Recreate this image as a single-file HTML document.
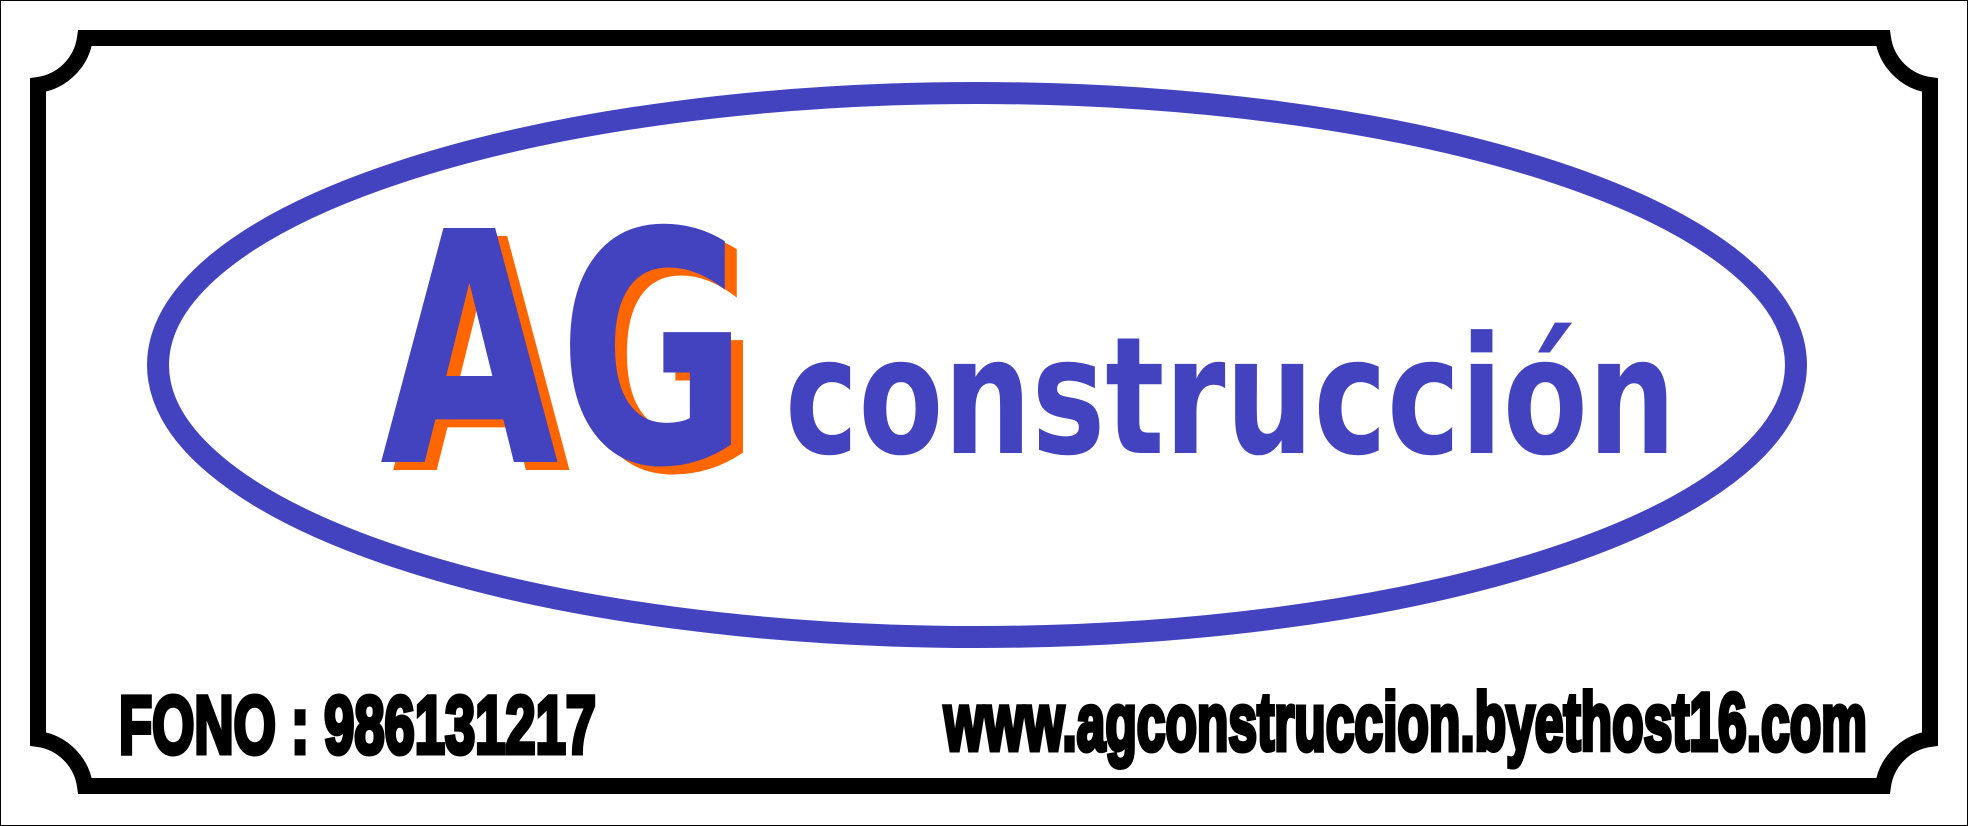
<!DOCTYPE html>
<html><head><meta charset="utf-8"><style>
html,body{margin:0;padding:0;background:#fff;}
svg{display:block;}
</style></head><body>
<svg width="1968" height="826" viewBox="0 0 1968 826">
<rect x="0.5" y="0.5" width="1967" height="825" fill="#fff" stroke="#000" stroke-width="1"/>
<path fill="none" stroke="#000" stroke-width="16"
 d="M85 38 L1883 38 A55 55 0 0 0 1930 85 L1930 739 A55 55 0 0 0 1883 786 L85 786 A55 55 0 0 0 38 739 L38 85 A55 55 0 0 0 85 38 Z"/>
<ellipse cx="977" cy="365" rx="819" ry="272" fill="none" stroke="#4343C0" stroke-width="22"/>
<text x="392" y="470" font-family="DejaVu Sans, sans-serif" font-weight="bold" font-size="321" fill="#FF6600" textLength="368" lengthAdjust="spacingAndGlyphs">AG</text>
<text x="380" y="462" font-family="DejaVu Sans, sans-serif" font-weight="bold" font-size="321" fill="#4343C0" textLength="368" lengthAdjust="spacingAndGlyphs">AG</text>
<text x="785" y="453" font-family="DejaVu Sans, sans-serif" font-weight="bold" font-size="163" fill="#4343C0" textLength="891" lengthAdjust="spacingAndGlyphs">construcción</text>
<text x="119" y="753" font-family="Liberation Sans, sans-serif" font-weight="bold" font-size="82" fill="#000" stroke="#000" stroke-width="5" textLength="477" lengthAdjust="spacingAndGlyphs">FONO : 986131217</text>
<text x="944" y="750" font-family="Liberation Sans, sans-serif" font-weight="bold" font-size="82" fill="#000" stroke="#000" stroke-width="5" textLength="923" lengthAdjust="spacingAndGlyphs">www.agconstruccion.byethost16.com</text>
</svg>
</body></html>
